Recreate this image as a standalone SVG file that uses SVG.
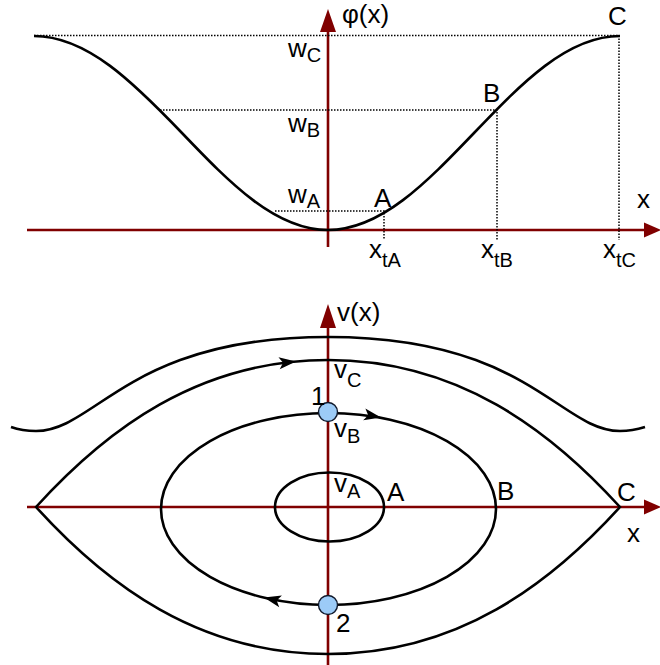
<svg xmlns="http://www.w3.org/2000/svg" width="660" height="665" viewBox="0 0 660 665">
<style>
.axis{stroke:#800000;stroke-width:2.6;fill:none}
.ahead{fill:#800000}
.curve{stroke:#000;stroke-width:2.6;fill:none}
.dot{stroke:#000;stroke-width:1.5;fill:none;stroke-dasharray:1.5 1.5}
.arr{fill:#000}
text{font-family:"Liberation Sans",Arial,sans-serif;font-size:26px;fill:#000}
.sub{font-size:20px}
.pt{fill:#9ccbf7;stroke:#10182a;stroke-width:1.4}
</style>
<defs>
<polygon id="ah" points="0,0 -17,-6 -13,0 -17,6"/>
</defs>
<rect width="660" height="665" fill="#fff"/>

<!-- top panel -->
<g id="top-axes">
<line class="axis" x1="328" y1="28" x2="328" y2="247"/>
<polygon class="ahead" points="328,9 320,32 336,32"/>
<line class="axis" x1="27" y1="230" x2="646" y2="230"/>
<polygon class="ahead" points="661,230 644,222.5 644,237.5"/>
</g>
<g id="top-guides">
<polyline class="dot" points="34,35.5 619,35.5 619,240"/>
<polyline class="dot" points="160,110 497,110 497,240"/>
<polyline class="dot" points="275,211 384,211 384,240"/>
</g>
<g id="potential">
<path class="curve" d="M34,36 C87,36 134.4,83.3 182,133 C229.6,182.7 275.2,230 328,230 C380.8,230 426.4,182.7 474,133 C521.6,83.3 567.2,36 620,36"/>
</g>
<g id="top-labels">
<text x="342" y="23">φ(x)</text>
<text x="608" y="25">C</text>
<text x="288" y="57">w<tspan class="sub" dy="5">C</tspan></text>
<text x="288" y="132">w<tspan class="sub" dy="5">B</tspan></text>
<text x="288" y="203">w<tspan class="sub" dy="5">A</tspan></text>
<text x="483" y="102">B</text>
<text x="374" y="207">A</text>
<text x="637" y="208">x</text>
<text x="369" y="258">x<tspan class="sub" dy="9">tA</tspan></text>
<text x="481" y="258">x<tspan class="sub" dy="9">tB</tspan></text>
<text x="603" y="258">x<tspan class="sub" dy="9">tC</tspan></text>
</g>

<!-- bottom panel -->
<g id="bottom-axes">
<line class="axis" x1="328" y1="322" x2="328" y2="665"/>
<polygon class="ahead" points="328,304 320,328 336,328"/>
<line class="axis" x1="27" y1="507" x2="646" y2="507"/>
<polygon class="ahead" points="661,507 644,499.5 644,514.5"/>
</g>
<g id="trajectories">
<path id="outer" class="curve" d="M11,427 C18,429.5 26,431 36,431 C96,431 128,337 328,337 C528,337 560,431 620,431 C630,431 637,429.5 645,427"/>
<path id="separatrix" class="curve" d="M36,507 C106,430 198,360 328,360 C458,360 550,430 620,507 C550,584 458,654 328,654 C198,654 106,584 36,507 Z"/>
<ellipse id="orbitB" class="curve" cx="328.5" cy="509" rx="167.5" ry="96"/>
<ellipse id="orbitA" class="curve" cx="329.5" cy="507" rx="54.5" ry="34.5"/>
</g>
<g id="flow-arrows">
<use href="#ah" class="arr" transform="translate(296,361.5) rotate(-6)"/>
<use href="#ah" class="arr" transform="translate(381,417.5) rotate(10.5)"/>
<use href="#ah" class="arr" transform="translate(264,597.5) rotate(193)"/>
</g>
<g id="point1">
<circle class="pt" cx="328" cy="412" r="9.5"/>
<text x="311" y="405">1</text>
</g>
<g id="point2">
<circle class="pt" cx="328" cy="605" r="9.5"/>
<text x="336" y="632">2</text>
</g>
<g id="bottom-labels">
<text x="337" y="321">v(x)</text>
<text x="334" y="378">v<tspan class="sub" dy="9">C</tspan></text>
<text x="334" y="437">v<tspan class="sub" dy="6">B</tspan></text>
<text x="334" y="492">v<tspan class="sub" dy="6">A</tspan></text>
<text x="387" y="501">A</text>
<text x="497" y="500">B</text>
<text x="617" y="501">C</text>
<text x="627" y="542">x</text>
</g>
</svg>
